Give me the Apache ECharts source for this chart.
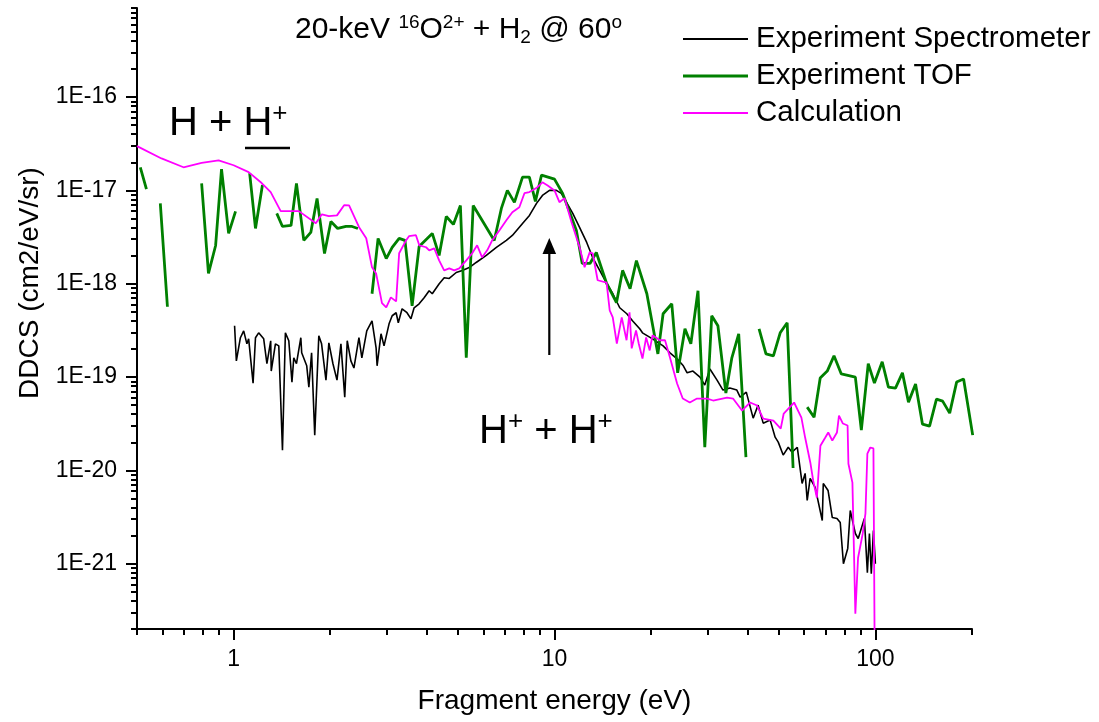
<!DOCTYPE html>
<html>
<head>
<meta charset="utf-8">
<script src="https://cdn.jsdelivr.net/npm/echarts@6/dist/echarts.min.js"></script>
<style>
html, body { margin: 0; padding: 0; background: #fff; }
#main { width: 1099px; height: 722px; }
</style>
</head>
<body>
<div id="main"></div>
<script>
var font = 'Liberation Sans, Arial, sans-serif';
var names = ['Experiment Spectrometer', 'Experiment TOF', 'Calculation'];
var colors = ['#000000', '#008000', '#ff00ff'];

// Experiment Spectrometer: energy (eV), DDCS
var specE = [1.007, 1.02, 1.05, 1.075, 1.10, 1.114, 1.15, 1.17, 1.197, 1.241, 1.27, 1.305, 1.31, 1.35, 1.383, 1.42, 1.45, 1.486, 1.52, 1.54,
	1.57, 1.62, 1.63, 1.69, 1.716, 1.75, 1.79, 1.843, 1.88, 1.94, 1.981, 2.04, 2.10, 2.16, 2.22, 2.26, 2.32, 2.371, 2.458, 2.51,
	2.60, 2.70, 2.78, 2.80, 2.88, 2.943, 3.051, 3.12, 3.21, 3.26, 3.35, 3.47, 3.57, 3.652, 3.786, 3.924, 4.068, 4.16, 4.372, 4.532,
	4.698, 4.94, 5.16, 5.425, 5.70, 6.13, 6.59, 7.08, 7.39, 7.95, 8.354, 8.79, 9.17, 9.647, 10.14, 10.5, 10.9, 11.4, 11.97, 12.6,
	13.15, 13.83, 14.5, 15.2, 15.97, 16.8, 17.5, 18.43, 18.8, 20.2, 21.8, 22.9, 24.1, 25.2, 25.9, 27.0, 28.4, 29.4, 30.5, 32.1,
	33.5, 35.2, 37.0, 37.9, 39.6, 41.6, 43.1, 44.7, 47.0, 48.7, 49.8, 51.6, 53.5, 55.0, 57.1, 59.1, 60.4, 61.3, 62.6, 64.9,
	68.3, 68.8, 71.2, 73.4, 75.9, 77.7, 79.5, 82.0, 83.5, 86.6, 88.4, 92.4, 94.4, 95.8, 97.1, 98.6, 100];
var specV = [3.55e-19, 1.49e-19, 2.64e-19, 3.13e-19, 2.27e-19, 2.57e-19, 8.62e-20, 2.64e-19, 2.98e-19, 2.57e-19, 1.39e-19, 2.45e-19, 1.16e-19, 2.27e-19, 2.16e-19, 1.65e-20, 2.98e-19, 2.45e-19, 8.84e-20, 1.61e-19,
	1.39e-19, 2.64e-19, 1.82e-19, 1.32e-19, 7.81e-20, 1.82e-19, 2.39e-20, 2.77e-19, 2.27e-19, 9.29e-20, 2.33e-19, 1.39e-19, 9.29e-20, 2.27e-19, 6.10e-20, 2.45e-19, 1.49e-19, 1.25e-19, 2.64e-19, 1.61e-19,
	3.13e-19, 4.01e-19, 2.06e-19, 1.32e-19, 2.91e-19, 2.16e-19, 3.72e-19, 4.54e-19, 4.89e-19, 3.82e-19, 5.39e-19, 4.89e-19, 4.21e-19, 5.53e-19, 6.10e-19, 7.08e-19, 8.41e-19, 7.81e-19, 1.0e-18, 1.16e-18,
	1.14e-18, 1.32e-18, 1.39e-18, 1.49e-18, 1.69e-18, 2.01e-18, 2.45e-18, 2.91e-18, 3.29e-18, 4.43e-18, 5.39e-18, 7.26e-18, 8.84e-18, 1.0e-17, 1.0e-17, 9.29e-18, 7.44e-18, 5.67e-18, 4.01e-18, 2.77e-18,
	1.91e-18, 1.39e-18, 1.03e-18, 7.81e-19, 5.53e-19, 4.77e-19, 4.01e-19, 3.29e-19, 2.98e-19, 2.57e-19, 2.16e-19, 1.82e-19, 1.57e-19, 1.32e-19, 1.11e-19, 1.16e-19, 1.0e-19, 8.21e-20, 1.22e-19, 9.29e-20,
	7.26e-20, 7.62e-20, 7.26e-20, 6.10e-20, 6.90e-20, 3.63e-20, 5.01e-20, 3.21e-20, 3.46e-20, 2.27e-20, 2.01e-20, 1.46e-20, 1.77e-20, 1.57e-20, 1.77e-20, 7.26e-21, 9.29e-21, 4.77e-21, 8.21e-21, 6.57e-21,
	2.91e-21, 7.26e-21, 6.10e-21, 3.13e-21, 3.06e-21, 2.77e-21, 1.0e-21, 1.46e-21, 3.72e-21, 2.11e-21, 1.86e-21, 3.06e-21, 8.01e-22, 2.11e-21, 7.81e-22, 2.27e-21, 1.0e-21];

// Experiment TOF (null = gap in the data)
var tofE = [0.512, 0.535, 0.56, 0.591, 0.622, 0.70, 0.795, 0.835, 0.879, 0.917, 0.965, 1.014, 1.07, 1.122, 1.17, 1.23, 1.30,
	1.363, 1.42, 1.51, 1.57, 1.655, 1.74, 1.82, 1.92, 2.01, 2.11, 2.24, 2.34, 2.44, 2.55,
	2.70, 2.82, 2.99, 3.12, 3.28, 3.42, 3.60, 3.786, 4.16, 4.37, 4.60, 4.84, 5.09, 5.31, 5.58, 6.49, 6.83, 7.13, 7.50, 7.95,
	8.35, 8.72, 9.11, 10.0, 10.6, 11.1, 11.7, 12.2, 12.9, 13.5, 14.5, 15.6, 16.3, 17.2, 18.0, 19.4, 21.0, 21.8, 23.2, 24.2,
	25.5, 26.6, 28.0, 29.4, 30.9, 32.3, 34.2, 35.7, 37.5, 39.5, 41,
	43.4, 45.6, 48.1, 50.5, 53.1, 55.4, 58,
	61.3, 64.4, 67.3, 70.8, 74.3, 78.3, 86.6, 90.4, 95.0, 99.3, 105, 109.8, 115.5, 121.4, 126.8, 133.4, 140.2, 147.5, 155.0, 162.0,
	170.4, 179.1, 188.3, 201];
var tofV = [1.77e-17, 1.03e-17, null, 7.26e-18, 5.67e-19, null, 1.19e-17, 1.29e-18, 2.57e-18, 1.69e-17, 3.46e-18, 5.96e-18, null, 1.53e-17, 3.91e-18, 1.14e-17, null,
	5.67e-18, 4.11e-18, 4.21e-18, 1.19e-17, 2.91e-18, 3.55e-18, 8.21e-18, 2.11e-18, 4.65e-18, 3.91e-18, 4.11e-18, 4.11e-18, 3.91e-18, null,
	7.81e-19, 3.06e-18, 1.86e-18, 2.45e-18, 3.06e-18, 2.91e-18, 5.81e-19, 2.51e-18, 3.46e-18, 2.01e-18, 5.26e-18, 4.32e-18, 6.90e-18, 1.61e-19, 6.90e-18, 2.91e-18, 6.41e-18, 1.0e-17, 7.44e-18, 1.39e-17,
	1.39e-17, 7.62e-18, 1.46e-17, 1.32e-17, 9.29e-18, 6.10e-18, 3.72e-18, 1.65e-18, 1.65e-18, 2.16e-18, 1.03e-18, 6.26e-19, 1.39e-18, 8.84e-19, 1.77e-18, 7.81e-19, 1.77e-19, 4.77e-19, 6.10e-19, 1.11e-19,
	3.29e-19, 2.27e-19, 8.41e-19, 1.77e-20, 4.54e-19, 3.55e-19, 6.74e-20, 1.61e-19, 2.91e-19, 1.39e-20, null,
	3.29e-19, 1.77e-19, 1.69e-19, 2.98e-19, 3.82e-19, 1.06e-20, null,
	4.77e-20, 3.72e-20, 9.76e-20, 1.16e-19, 1.69e-19, 1.08e-19, 1.0e-19, 2.70e-20, 1.39e-19, 8.62e-20, 1.46e-19, 7.81e-20, 7.62e-20, 1.11e-19, 5.39e-20, 8.41e-20, 3.13e-20, 2.98e-20, 5.81e-20, 5.53e-20,
	4.11e-20, 8.84e-20, 9.52e-20, 2.39e-20];

// Calculation
var calcE = [0.5, 0.596, 0.698, 0.795, 0.898, 1.0, 1.114, 1.223, 1.305, 1.402, 1.597, 1.804, 1.884, 1.98, 2.10, 2.21, 2.29, 2.46, 2.59, 2.70,
	2.78, 2.90, 2.99, 3.09, 3.21, 3.28, 3.45, 3.52, 3.70, 3.79, 3.98, 4.07, 4.22, 4.37, 4.53, 4.70, 4.87, 5.05, 5.31, 5.54,
	5.74, 5.95, 6.17, 6.40, 6.74, 7.08, 7.39, 7.77, 8.06, 8.35, 8.78, 9.17, 9.52, 10.0, 10.36, 10.75, 11.3, 11.97, 12.41, 12.87,
	13.15, 13.63, 14.53, 14.86, 15.19, 15.64, 16.2, 16.77, 17.13, 17.4, 17.95, 18.3, 18.8, 19.3, 19.8, 20.2, 21.3, 22.1, 22.9, 24.1,
	25.1, 26.4, 27.8, 29.9, 31.2, 34.5, 36.0, 38.4, 40.7, 42.8, 44.7, 48.1, 50.7, 51.8, 55.8, 58.8, 60.4, 62.7, 64.0, 65.7,
	67.4, 69.8, 71.3, 73.4, 75.9, 77.0, 79.2, 81.9, 82.4, 84.8, 85.5, 86.6, 88.3, 91.3, 93.1, 94.4, 96.4, 98.6, 99.5];
var calcV = [2.98e-17, 2.2e-17, 1.77e-17, 1.97e-17, 2.1e-17, 1.86e-17, 1.57e-17, 1.2e-17, 9.6e-18, 6.0e-18, 6.0e-18, 4.45e-18, 5.55e-18, 5.29e-18, 5.4e-18, 6.94e-18, 6.9e-18, 4.03e-18, 3.07e-18, 1.5e-18,
	1.29e-18, 6.2e-19, 5.58e-19, 7.15e-19, 6.47e-19, 2.12e-18, 2.93e-18, 3.23e-18, 3.31e-18, 2.58e-18, 2.46e-18, 2.28e-18, 2.39e-18, 1.78e-18, 1.39e-18, 1.46e-18, 1.39e-18, 1.46e-18, 1.78e-18, 2.12e-18,
	2.58e-18, 1.92e-18, 2.28e-18, 2.93e-18, 3.74e-18, 4.79e-18, 5.83e-18, 6.6e-18, 9.33e-18, 9.6e-18, 1.06e-17, 1.22e-17, 1.13e-17, 1.0e-17, 7.48e-18, 8.25e-18, 4.56e-18, 2.46e-18, 1.5e-18, 2.17e-18,
	2.12e-18, 1.09e-18, 1.03e-18, 5.18e-19, 4.36e-19, 2.29e-19, 4.36e-19, 2.48e-19, 4.94e-19, 2.03e-19, 3.16e-19, 2.29e-19, 1.58e-19, 2.66e-19, 1.93e-19, 2.8e-19, 2.48e-19, 2.48e-19, 1.62e-19, 8.54e-20,
	5.89e-20, 5.34e-20, 5.89e-20, 5.89e-20, 5.61e-20, 6.04e-20, 5.89e-20, 4.38e-20, 5.34e-20, 4.96e-20, 3.59e-20, 3.42e-20, 2.81e-20, 4.07e-20, 5.34e-20, 3.68e-20, 2.25e-20, 1.21e-20, 7.77e-21, 5.11e-21,
	1.84e-20, 2.25e-20, 2.55e-20, 2.09e-20, 2.55e-20, 3.87e-20, 3.18e-20, 3.03e-20, 1.18e-20, 7.4e-21, 2.1e-21, 2.91e-22, 1.16e-21, 2.1e-21, 3.44e-21, 1.51e-20, 1.76e-20, 1.72e-20, 1e-22];

// tick positions
var xMajor = [1, 10, 100];
var yMajor = [1e-21, 1e-20, 1e-19, 1e-18, 1e-17, 1e-16];

function pairs(xs, ys) {
	var res = [];
	for (var i = 0; i < xs.length; i++) res.push([xs[i], ys[i]]);
	return res;
}

// log minor ticks 2..9 in every decade
function minorTicks(lo, hi) {
	var res = [];
	for (var k = lo; k <= hi; k++)
		for (var m = 2; m <= 9; m++) res.push(m * Math.pow(10, k));
	return res;
}

var black = { color: '#000', width: 2 };
var labelFont = { fontSize: 23, fontFamily: font, color: '#000' };

var chart = echarts.init(document.getElementById('main'));
chart.setOption({
	animation: false,
	backgroundColor: '#fff',
	grid: { left: 137, right: 127, top: 8, bottom: 93, outerBoundsMode: 'none' },
	legend: {
		orient: 'vertical', left: 683, top: 24, padding: 0,
		itemWidth: 65, itemHeight: 14, itemGap: 7,
		selectedMode: false,
		textStyle: { fontSize: 29.5, fontFamily: font, color: '#000', padding: [0, 0, 0, 3] },
		data: [
			{ name: names[0], icon: 'path://M0,0H65V2H0Z' },
			{ name: names[1], icon: 'path://M0,0H65V3H0Z' },
			{ name: names[2], icon: 'path://M0,0H65V2H0Z' }
		]
	},
	xAxis: [{
		type: 'log', logBase: 10, min: 0.5, max: 200, position: 'bottom',
		name: 'Fragment energy (eV)', nameLocation: 'middle', nameGap: 58,
		nameTextStyle: { fontSize: 28, fontFamily: font, color: '#000' },
		axisLine: { lineStyle: black },
		axisTick: { customValues: xMajor, length: 11, lineStyle: black },
		axisLabel: Object.assign({ customValues: xMajor, margin: 19, formatter: function (v) { return String(v); } }, labelFont),
		splitLine: { show: false }
	}, {
		// minor ticks only
		type: 'log', logBase: 10, min: 0.5, max: 200, position: 'bottom',
		axisLine: { show: false },
		axisLabel: { show: false },
		axisTick: { customValues: minorTicks(-1, 2), length: 6, lineStyle: black },
		splitLine: { show: false }
	}],
	yAxis: [{
		type: 'log', logBase: 10, min: 2e-22, max: 9e-16, position: 'left',
		name: 'DDCS (cm2/eV/sr)', nameLocation: 'middle', nameGap: 92,
		nameTextStyle: { fontSize: 28, fontFamily: font, color: '#000', padding: [0, 0, 0, 71] },
		axisLine: { lineStyle: black },
		axisTick: { customValues: yMajor, length: 11, lineStyle: black },
		axisLabel: Object.assign({ customValues: yMajor, margin: 20, formatter: function (v) { return '1E' + Math.round(Math.log10(v)); } }, labelFont),
		splitLine: { show: false }
	}, {
		type: 'log', logBase: 10, min: 2e-22, max: 9e-16, position: 'left',
		axisLine: { show: false },
		axisLabel: { show: false },
		axisTick: { customValues: minorTicks(-22, -16), length: 6, lineStyle: black },
		splitLine: { show: false }
	}],
	series: [{
		name: names[0], type: 'line', symbol: 'none', silent: true,
		lineStyle: { color: colors[0], width: 1.6 }, itemStyle: { color: colors[0] },
		data: pairs(specE, specV)
	}, {
		name: names[1], type: 'line', symbol: 'none', silent: true, connectNulls: false,
		lineStyle: { color: colors[1], width: 2.8 }, itemStyle: { color: colors[1] },
		data: pairs(tofE, tofV)
	}, {
		name: names[2], type: 'line', symbol: 'none', silent: true,
		lineStyle: { color: colors[2], width: 1.8 }, itemStyle: { color: colors[2] },
		data: pairs(calcE, calcV)
	}],
	graphic: [{
		type: 'text', x: 295, y: 13, silent: true,
		style: {
			text: '{a|20-keV }{s|16}{a|O}{s|2+}{a| + H}{b|2}{a| @ 60}{s|o}',
			align: 'left', verticalAlign: 'top', fill: '#000',
			rich: {
				a: { fontSize: 30, lineHeight: 34, fontFamily: font },
				s: { fontSize: 19, lineHeight: 20, fontFamily: font, verticalAlign: 'top' },
				b: { fontSize: 19, lineHeight: 14, fontFamily: font, verticalAlign: 'bottom' }
			}
		}
	}, {
		type: 'text', x: 169, y: 101, silent: true,
		style: {
			text: '{m|H + H}{p|+}',
			align: 'left', verticalAlign: 'top', fill: '#000',
			rich: {
				m: { fontSize: 40, lineHeight: 46, fontFamily: font },
				p: { fontSize: 26, lineHeight: 34, fontFamily: font, verticalAlign: 'top' }
			}
		}
	}, {
		type: 'line', silent: true,
		shape: { x1: 245, y1: 148, x2: 290, y2: 148 },
		style: { stroke: '#000', lineWidth: 2.5 }
	}, {
		type: 'text', x: 479, y: 409, silent: true,
		style: {
			text: '{m|H}{p|+}{m| + H}{p|+}',
			align: 'left', verticalAlign: 'top', fill: '#000',
			rich: {
				m: { fontSize: 40, lineHeight: 46, fontFamily: font },
				p: { fontSize: 26, lineHeight: 34, fontFamily: font, verticalAlign: 'top' }
			}
		}
	}, {
		type: 'line', silent: true,
		shape: { x1: 549.3, y1: 355, x2: 549.3, y2: 252 },
		style: { stroke: '#000', lineWidth: 2.2 }
	}, {
		type: 'polygon', silent: true,
		shape: { points: [[549.3, 238], [542.5, 254], [556.1, 254]] },
		style: { fill: '#000' }
	}]
});
</script>
</body>
</html>
